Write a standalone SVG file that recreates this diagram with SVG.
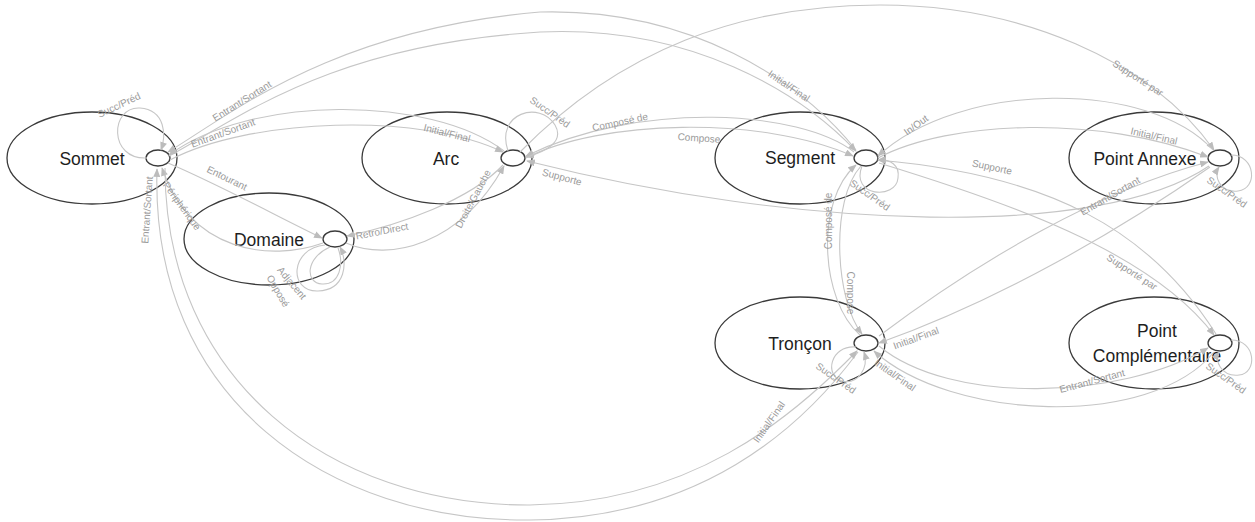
<svg xmlns="http://www.w3.org/2000/svg" width="1255" height="522" viewBox="0 0 1255 522">
<defs>
<style>
.node{fill:#fff;stroke:#3a3a3a;stroke-width:1.3}
.port{fill:#fff;stroke:#3a3a3a;stroke-width:1.3}
.nt{font-family:"Liberation Sans",Arial,sans-serif;font-size:17.5px;fill:#1e1e1e;text-anchor:middle}
.c{fill:none;stroke:#c6c6c6;stroke-width:1.1}
.a{marker-end:url(#ah)}
.lb{font-family:"Liberation Sans",Arial,sans-serif;font-size:10px;fill:#9a9a9a;text-anchor:middle;dominant-baseline:central}
</style>
<marker id="ah" viewBox="0 0 10 8" refX="9" refY="4" markerWidth="9" markerHeight="7" markerUnits="userSpaceOnUse" orient="auto"><path d="M0,0 L10,4 L0,8 z" fill="#bcbcbc"/></marker>
</defs>
<rect width="1255" height="522" fill="#fff"/>

<g id="sommet"><ellipse class="node" cx="92" cy="158" rx="85" ry="46"/><text class="nt" x="92" y="165">Sommet</text><ellipse class="port" cx="158" cy="158" rx="12" ry="8"/></g>
<g id="domaine"><ellipse class="node" cx="269" cy="239" rx="85" ry="46"/><text class="nt" x="269" y="246">Domaine</text><ellipse class="port" cx="335" cy="239" rx="12" ry="8"/></g>
<g id="arc"><ellipse class="node" cx="447" cy="158" rx="85" ry="46"/><text class="nt" x="446" y="165">Arc</text><ellipse class="port" cx="513" cy="158" rx="12" ry="8"/></g>
<g id="segment"><ellipse class="node" cx="800" cy="158" rx="85" ry="46"/><text class="nt" x="800" y="164">Segment</text><ellipse class="port" cx="866" cy="158" rx="12" ry="8"/></g>
<g id="point-annexe"><ellipse class="node" cx="1154" cy="158" rx="85" ry="46"/><text class="nt" x="1145" y="165">Point Annexe</text><ellipse class="port" cx="1220" cy="158" rx="12" ry="8"/></g>
<g id="troncon"><ellipse class="node" cx="800" cy="343" rx="85" ry="46"/><text class="nt" x="800" y="350">Tronçon</text><ellipse class="port" cx="866" cy="343" rx="12" ry="8"/></g>
<g id="point-complementaire"><ellipse class="node" cx="1154" cy="343" rx="85" ry="46"/><text class="nt" x="1157" y="337">Point</text><text class="nt" x="1157" y="362">Complémentaire</text><ellipse class="port" cx="1220" cy="343" rx="12" ry="8"/></g>

<g id="connectors">
<!-- Sommet self loop -->
<path class="c a" d="M147,158 C108,160 110,106 140,108 C166,110 166,136 161,150"/>
<text class="lb" transform="translate(119,105) rotate(-25)">Succ/Préd</text>
<!-- Sommet <-> Segment -->
<path class="c a" d="M856,150 C800,80 690,8 540,12 C330,30 230,115 168,152"/>
<text class="lb" transform="translate(242,101) rotate(-32)">Entrant/Sortant</text>
<path class="c a" d="M169,156 C240,118 330,45 540,32 C690,25 800,92 856,151"/>
<text class="lb" transform="translate(789,86) rotate(34)">Initial/Final</text>
<!-- Sommet <-> Arc -->
<path class="c a" d="M504,151 C430,95 250,95 169,155"/>
<text class="lb" transform="translate(223,133) rotate(-20)">Entrant/Sortant</text>
<path class="c a" d="M170,160 C250,118 420,112 503,152"/>
<text class="lb" transform="translate(447,133) rotate(14)">Initial/Final</text>
<!-- Sommet <-> Domaine -->
<path class="c a" d="M168,163 C220,185 280,218 322,238"/>
<text class="lb" transform="translate(227,178) rotate(26)">Entourant</text>
<path class="c a" d="M323,243 C270,262 190,252 162,168"/>
<text class="lb" transform="translate(182,206) rotate(54)">Périphérique</text>
<!-- Sommet <-> Tronçon -->
<path class="c a" d="M858,352 C800,430 700,518 530,520 C330,522 150,400 157,169"/>
<text class="lb" transform="translate(147,210) rotate(-86)">Entrant/Sortant</text>
<path class="c a" d="M165,168 C165,380 330,506 530,505 C690,503 790,420 857,351"/>
<text class="lb" transform="translate(769,422) rotate(-55)">Initial/Final</text>
<!-- Arc self loop -->
<path class="c a" d="M508,151 C495,113 540,100 555,125 C565,142 545,152 526,157"/>
<text class="lb" transform="translate(550,112) rotate(35)">Succ/Préd</text>
<!-- Arc <-> Domaine -->
<path class="c a" d="M503,165 C470,200 400,225 347,236"/>
<text class="lb" transform="translate(382,231) rotate(-11)">Retro/Direct</text>
<path class="c a" d="M346,243 C390,262 460,245 504,166"/>
<text class="lb" transform="translate(473,199) rotate(-62)">Droite/Gauche</text>
<!-- Domaine self loops -->
<path class="c a" d="M325,245 C290,248 288,292 318,291 C346,290 348,262 340,247"/>
<path class="c" d="M330,247 C305,258 305,283 322,284 C340,285 344,264 338,248"/>
<text class="lb" transform="translate(292,283) rotate(50)">Adjacent</text>
<text class="lb" transform="translate(278,291) rotate(60)">Opposé</text>
<!-- Arc <-> Segment -->
<path class="c a" d="M854,152 C800,110 640,100 526,156"/>
<text class="lb" transform="translate(620,122) rotate(-12)">Composé de</text>
<path class="c a" d="M526,158 C600,120 760,115 853,156"/>
<text class="lb" transform="translate(699,138) rotate(4)">Compose</text>
<!-- Arc <-> Point Annexe -->
<path class="c a" d="M520,152 C620,50 740,5 880,5 C1020,5 1150,60 1214,150"/>
<text class="lb" transform="translate(1138,78) rotate(33)">Supporté par</text>
<path class="c a" d="M1209,166 C1100,240 800,230 527,161"/>
<text class="lb" transform="translate(562,177) rotate(15)">Supporte</text>
<!-- Segment self loop -->
<path class="c a" d="M862,166 C850,197 896,200 898,178 C900,165 890,159 878,160"/>
<text class="lb" transform="translate(870,195) rotate(35)">Succ/Préd</text>
<!-- Segment <-> Point Annexe -->
<path class="c a" d="M1213,150 C1150,80 960,80 878,156"/>
<text class="lb" transform="translate(916,125) rotate(-36)">In/Out</text>
<path class="c a" d="M878,158 C950,120 1100,115 1208,157"/>
<text class="lb" transform="translate(1154,136) rotate(13)">Initial/Final</text>
<!-- Point Annexe self loop -->
<path class="c a" d="M1231,155 C1256,155 1258,189 1238,191 C1220,193 1213,176 1219,167"/>
<text class="lb" transform="translate(1227,192) rotate(35)">Succ/Préd</text>
<!-- Segment <-> Point Complementaire -->
<path class="c a" d="M1216,334 C1150,230 1050,175 878,160"/>
<text class="lb" transform="translate(992,167) rotate(12)">Supporte</text>
<path class="c a" d="M879,163 C1000,200 1150,250 1214,335"/>
<text class="lb" transform="translate(1132,272) rotate(33)">Supporté par</text>
<!-- Segment <-> Tronçon -->
<path class="c a" d="M860,335 C820,300 815,200 856,165"/>
<text class="lb" transform="translate(828,221) rotate(-90)">Composé de</text>
<path class="c a" d="M861,166 C830,200 835,300 862,334"/>
<text class="lb" transform="translate(850,293) rotate(90)">Compose</text>
<!-- Tronçon <-> Point Annexe -->
<path class="c a" d="M879,336 C980,260 1100,190 1208,162"/>
<text class="lb" transform="translate(1110,196) rotate(-30)">Entrant/Sortant</text>
<path class="c a" d="M1210,167 C1120,230 1000,300 879,343"/>
<text class="lb" transform="translate(916,338) rotate(-20)">Initial/Final</text>
<!-- Tronçon <-> Point Complementaire -->
<path class="c a" d="M879,346 C950,405 1120,400 1208,348"/>
<text class="lb" transform="translate(1092,381) rotate(-15)">Entrant/Sortant</text>
<path class="c a" d="M1214,352 C1150,430 950,420 874,351"/>
<text class="lb" transform="translate(895,375) rotate(35)">Initial/Final</text>
<!-- Tronçon self loop -->
<path class="c a" d="M856,347 C830,345 824,376 842,381 C858,385 869,368 864,352"/>
<text class="lb" transform="translate(836,378) rotate(35)">Succ/Préd</text>
<!-- Point Complementaire self loop -->
<path class="c a" d="M1231,340 C1256,340 1258,373 1239,375 C1221,377 1214,360 1219,352"/>
<text class="lb" transform="translate(1226,378) rotate(35)">Succ/Préd</text>
</g>
</svg>
